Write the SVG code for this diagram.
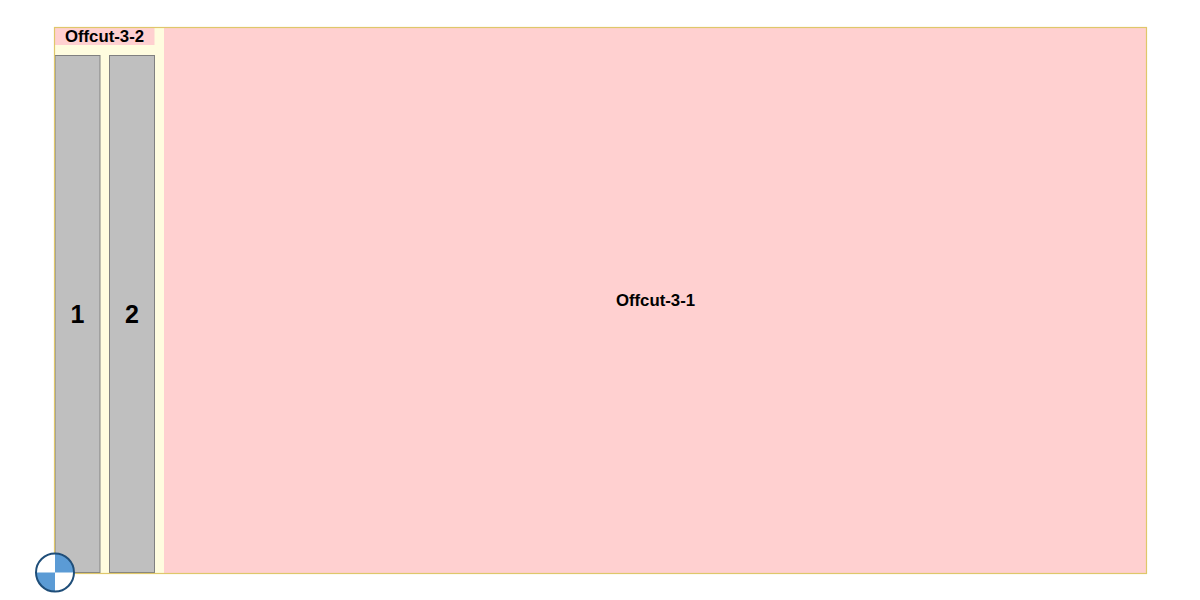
<svg xmlns="http://www.w3.org/2000/svg" width="1200" height="600" viewBox="0 0 1200 600">
<style>
.t{font-family:"Liberation Sans",Arial,sans-serif;font-weight:bold;fill:#000;text-anchor:middle}
.s{font-size:16.800px}
.b{font-size:25px}
.part{fill:#bfbfbf;stroke:#808080;stroke-width:1}
.off{fill:#ffd0d0}
</style>
<rect width="1200" height="600" fill="#fff"/>
<g id="sheet"><rect x="54.500" y="27.500" width="1092" height="546" fill="#fffcdf"/></g>
<g id="offcut-3-1"><rect class="off" x="164" y="28" width="982" height="545"/><text class="t s" x="655.500" y="305.500">Offcut-3-1</text></g>
<g id="offcut-3-2"><rect class="off" x="55" y="28" width="99.500" height="17"/><text class="t s" x="104.500" y="42">Offcut-3-2</text></g>
<g id="part-1"><rect class="part" x="55" y="55.500" width="45" height="517"/><text class="t b" x="77.500" y="322.500">1</text></g>
<g id="part-2"><rect class="part" x="109.500" y="55.500" width="45" height="517"/><text class="t b" x="132" y="322.500">2</text></g>
<rect id="sheet-border" x="54.500" y="27.500" width="1092" height="546" fill="none" stroke="#dfc76a" stroke-width="1.200"/>
<g id="origin">
<circle cx="55" cy="572.500" r="19" fill="#fff"/>
<path d="M55 572.500V553.500A19 19 0 0 1 74 572.500ZM55 572.500V591.500A19 19 0 0 1 36 572.500Z" fill="#5b9bd5"/>
<circle cx="55" cy="572.500" r="19" fill="none" stroke="#1f4e79" stroke-width="2"/>
</g>
</svg>
